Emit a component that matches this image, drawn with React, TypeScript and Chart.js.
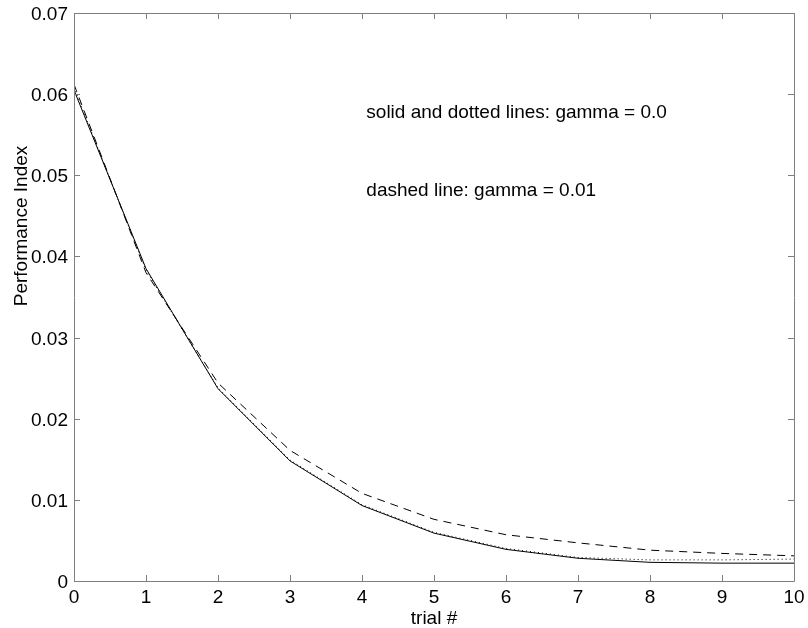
import React, { useEffect, useRef } from "react";
import { Chart, registerables } from "chart.js";

Chart.register(...registerables);

const trials = [0, 1, 2, 3, 4, 5, 6, 7, 8, 9, 10];
const solidGamma0 = [0.0605, 0.0385, 0.0237, 0.0148, 0.0093, 0.0059, 0.0039, 0.0028, 0.0023, 0.0022, 0.0022];
const dottedGamma0 = [0.0608, 0.0383, 0.0238, 0.0149, 0.0094, 0.006, 0.004, 0.0029, 0.0026, 0.0026, 0.0027];
const dashedGamma001 = [0.0612, 0.038, 0.0244, 0.0161, 0.0108, 0.0076, 0.0057, 0.0047, 0.0038, 0.0034, 0.0031];
const xTicks = [0, 1, 2, 3, 4, 5, 6, 7, 8, 9, 10];
const yTicks = [0, 0.01, 0.02, 0.03, 0.04, 0.05, 0.06, 0.07];
const annotations = [
  { x: 4.06, y: 0.05705, text: "solid and dotted lines: gamma = 0.0" },
  { x: 4.06, y: 0.04745, text: "dashed line: gamma = 0.01" },
];
const xTitle = "trial #";
const yTitle = "Performance Index";

const FONT = "'Liberation Sans', Arial, Helvetica, sans-serif";
const FS = 19;

const framePlugin = {
  id: "matlabFrame",
  afterDraw(chart: any) {
    const { ctx, chartArea } = chart;
    const xs = chart.scales.x;
    const ys = chart.scales.y;
    const { left, right, top, bottom } = chartArea;
    ctx.save();
    ctx.strokeStyle = "#7f7f7f";
    ctx.lineWidth = 1;
    ctx.beginPath();
    ctx.rect(Math.round(left) + 0.5, Math.round(top) + 0.5, Math.round(right - left), Math.round(bottom - top));
    ctx.stroke();
    const tl = 6;
    ctx.beginPath();
    xTicks.forEach((v) => {
      const px = Math.round(xs.getPixelForValue(v)) + 0.5;
      ctx.moveTo(px, bottom);
      ctx.lineTo(px, bottom - tl);
      ctx.moveTo(px, top);
      ctx.lineTo(px, top + tl);
    });
    yTicks.forEach((v) => {
      const py = Math.round(ys.getPixelForValue(v)) + 0.5;
      ctx.moveTo(left, py);
      ctx.lineTo(left + tl, py);
      ctx.moveTo(right, py);
      ctx.lineTo(right - tl, py);
    });
    ctx.stroke();

    ctx.fillStyle = "#000";
    ctx.font = `${FS}px ${FONT}`;
    ctx.textBaseline = "alphabetic";

    // tick labels
    ctx.textAlign = "right";
    yTicks.forEach((v) => {
      const label = v === 0 ? "0" : v.toFixed(2);
      ctx.fillText(label, left - 6, ys.getPixelForValue(v) + 7);
    });
    ctx.textAlign = "center";
    xTicks.forEach((v) => {
      ctx.fillText(String(v), xs.getPixelForValue(v), bottom + 22);
    });

    // annotations
    ctx.textAlign = "left";
    annotations.forEach((a) => {
      ctx.fillText(a.text, xs.getPixelForValue(a.x), ys.getPixelForValue(a.y));
    });

    // axis titles
    ctx.textAlign = "center";
    ctx.fillText(xTitle, (left + right) / 2, 624);
    ctx.translate(27, 226);
    ctx.rotate(-Math.PI / 2);
    ctx.fillText(yTitle, 0, 0);
    ctx.restore();
  },
};

export default function App() {
  const ref = useRef<HTMLCanvasElement | null>(null);
  useEffect(() => {
    document.body.style.margin = "0";
    const canvas = ref.current;
    if (!canvas) return;
    const mk = (arr: number[]) => trials.map((t, i) => ({ x: t, y: arr[i] }));
    const chart = new Chart(canvas, {
      type: "line",
      data: {
        datasets: [
          {
            label: "solid",
            data: mk(solidGamma0),
            borderColor: "#000",
            borderWidth: 1,
            pointRadius: 0,
            tension: 0,
          },
          {
            label: "dotted",
            data: mk(dottedGamma0),
            borderColor: "#000",
            borderWidth: 1,
            borderDash: [1, 3],
            pointRadius: 0,
            tension: 0,
          },
          {
            label: "dashed",
            data: mk(dashedGamma001),
            borderColor: "#000",
            borderWidth: 1,
            borderDash: [8, 6],
            pointRadius: 0,
            tension: 0,
          },
        ],
      },
      options: {
        responsive: false,
        animation: false,
        layout: { padding: { left: 0, right: 14, top: 13, bottom: 0 } },
        plugins: { legend: { display: false }, tooltip: { enabled: false } },
        scales: {
          x: {
            type: "linear",
            min: 0,
            max: 10,
            grid: { display: false },
            border: { display: false },
            ticks: { display: false },
            afterFit: (s: any) => {
              s.height = 47;
            },
            afterBuildTicks: (s: any) => {
              s.ticks = xTicks.map((v) => ({ value: v }));
            },
          },
          y: {
            type: "linear",
            min: 0,
            max: 0.07,
            grid: { display: false },
            border: { display: false },
            ticks: { display: false },
            afterFit: (s: any) => {
              s.width = 74;
            },
            afterBuildTicks: (s: any) => {
              s.ticks = yTicks.map((v) => ({ value: v }));
            },
          },
        },
      },
      plugins: [framePlugin],
    });
    return () => chart.destroy();
  }, []);
  return <canvas ref={ref} width={808} height={628} style={{ display: "block" }} />;
}
